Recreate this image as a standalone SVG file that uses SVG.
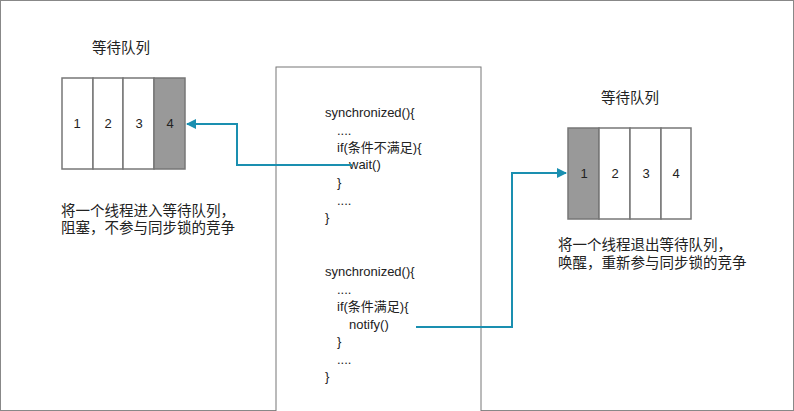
<svg xmlns="http://www.w3.org/2000/svg" width="794" height="411" viewBox="0 0 794 411">
<defs>
<style>
text{font-family:"Liberation Sans","Noto Sans CJK SC",sans-serif;font-size:13px;fill:#222}
.z{font-size:14.5px}
.c{fill:#fff;stroke:#777;stroke-width:1.5}
.d{fill:#999;stroke:#777;stroke-width:1.5}
.n{text-anchor:middle}
.w{fill:none;stroke:#1a8fb0;stroke-width:2}
</style>
<marker id="a" viewBox="0 0 10 10" refX="9" refY="5" markerWidth="5" markerHeight="5" orient="auto"><path d="M0,0L10,5L0,10z" fill="#1a8fb0"/></marker>
</defs>
<rect x="0.5" y="0.5" width="793" height="410" fill="#fff" stroke="#888"/>
<g id="code">
<rect x="276" y="67" width="205" height="350" fill="#fff" stroke="#777"/>
<text x="325" y="117">synchronized(){</text>
<text x="337" y="135">....</text>
<text x="337" y="152">if(条件不满足){</text>
<text x="349" y="169">wait()</text>
<text x="337" y="187">}</text>
<text x="337" y="205">....</text>
<text x="325" y="222">}</text>
<text x="325" y="276">synchronized(){</text>
<text x="337" y="294">....</text>
<text x="337" y="311">if(条件满足){</text>
<text x="349" y="329">notify()</text>
<text x="337" y="346">}</text>
<text x="337" y="364">....</text>
<text x="325" y="381">}</text>
</g>
<g id="q1">
<text class="z" x="92" y="53">等待队列</text>
<rect class="c" x="62" y="78" width="31" height="91"/>
<rect class="c" x="93" y="78" width="30" height="91"/>
<rect class="c" x="123" y="78" width="31" height="91"/>
<rect class="d" x="154" y="78" width="31" height="91"/>
<text class="n" x="77" y="128">1</text><text class="n" x="108" y="128">2</text><text class="n" x="139" y="128">3</text><text class="n" x="170" y="128">4</text>
<text class="z" x="61" y="216">将一个线程进入等待队列，</text>
<text class="z" x="61" y="233">阻塞，不参与同步锁的竞争</text>
</g>
<g id="q2">
<text class="z" x="601" y="103">等待队列</text>
<rect class="d" x="568" y="128" width="31" height="91"/>
<rect class="c" x="599" y="128" width="31" height="91"/>
<rect class="c" x="630" y="128" width="31" height="91"/>
<rect class="c" x="661" y="128" width="30" height="91"/>
<text class="n" x="584" y="178">1</text><text class="n" x="615" y="178">2</text><text class="n" x="646" y="178">3</text><text class="n" x="676" y="178">4</text>
<text class="z" x="558" y="250">将一个线程退出等待队列，</text>
<text class="z" x="558" y="268">唤醒，重新参与同步锁的竞争</text>
</g>
<g id="connectors">
<path class="w" d="M352,165H237V124H187" marker-end="url(#a)"/>
<path class="w" d="M416,327H512V173H566" marker-end="url(#a)"/>
</g>
</svg>
